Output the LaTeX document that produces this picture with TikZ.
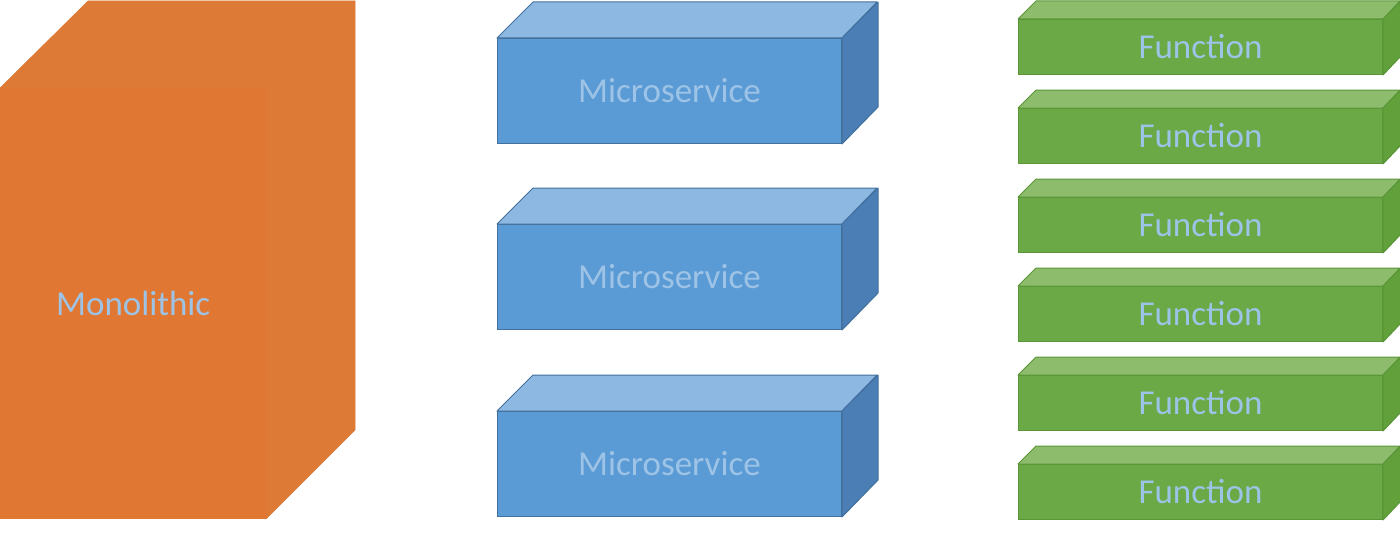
\documentclass[tikz,border=0pt]{standalone}
\usepackage{fontspec}
\setmainfont{Carlito}
\definecolor{txt}{HTML}{9DC3E6}
\definecolor{orfront}{HTML}{E07833}
\definecolor{orside}{HTML}{DC7A36}
\definecolor{bfront}{HTML}{5B9BD5}
\definecolor{btop}{HTML}{8DB8E2}
\definecolor{bside}{HTML}{4A7EB5}
\definecolor{bedge}{HTML}{41719C}
\definecolor{gfront}{HTML}{6AA945}
\definecolor{gtop}{HTML}{8DBD6C}
\definecolor{gside}{HTML}{62A03C}
\definecolor{gedge}{HTML}{5A9638}
\newcommand{\lowtext}[1]{\raisebox{-2pt}{#1}}
\tikzset{
  lbl/.style={text=txt, font=\fontsize{35}{42}\selectfont, inner sep=0pt, anchor=north west},
  monofront/.style={lbl, fill=orfront, draw=orfront, line width=0.5pt},
  msfront/.style={lbl, fill=bfront, draw=bedge, line width=1pt, minimum width=344pt, minimum height=105pt},
  fnfront/.style={lbl, fill=gfront, draw=gedge, line width=1pt, minimum width=364pt, minimum height=55pt},
  monoface/.style={fill=orside, draw=orside, line width=0.5pt},
  mstop/.style={fill=btop, draw=bedge, line width=1pt, line join=round},
  msside/.style={fill=bside, draw=bedge, line width=1pt, line join=round},
  fntop/.style={fill=gtop, draw=gedge, line width=1pt, line join=round},
  fnside/.style={fill=gside, draw=gedge, line width=1pt, line join=round},
}
\begin{document}
\begin{tikzpicture}[x=1pt,y=-1pt]
\useasboundingbox (0,0) rectangle (1400,535);
% Monolith
\node[monofront, minimum width=266pt, minimum height=430pt] (mono) at (0,88) {\lowtext{Monolithic}};
\fill[monoface] (mono.north west) -- ++(88,-87) -- ++(267,0) -- ++(0,429) -- (mono.south east) -- (mono.north east) -- cycle;
% Microservices
\foreach \i/\y in {1/38,2/224,3/411}{
  \node[msfront] (ms\i) at (497,\y) {\lowtext{Microservice}};
  \draw[mstop] (ms\i.north west) -- ++(36,-36) -- ++(344,0) -- (ms\i.north east) -- cycle;
  \draw[msside] (ms\i.north east) -- ++(36,-36) -- ++(0,105) -- (ms\i.south east) -- cycle;
}
% Functions
\foreach \i in {0,...,5}{
  \pgfmathsetmacro{\yy}{19+89*\i}
  \node[fnfront] (fn\i) at (1018,\yy) {\lowtext{Function}};
  \draw[fntop] (fn\i.north west) -- ++(18,-18) -- ++(364,0) -- (fn\i.north east) -- cycle;
  \draw[fnside] (fn\i.north east) -- ++(18,-18) -- ++(0,55) -- (fn\i.south east) -- cycle;
}
\end{tikzpicture}
\end{document}
